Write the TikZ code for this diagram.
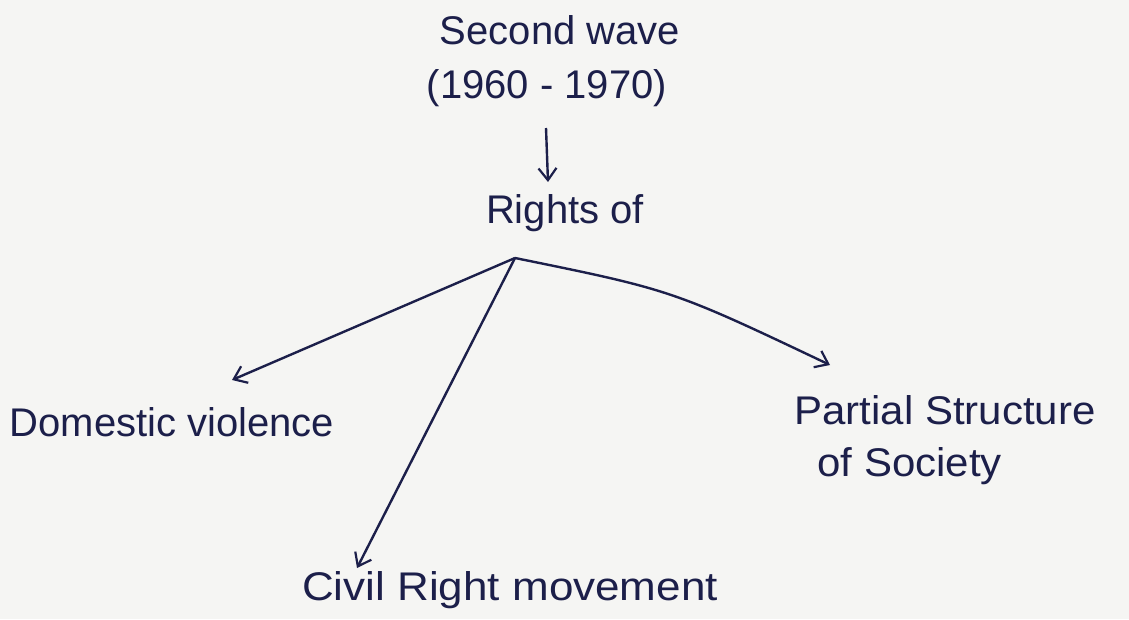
\documentclass[tikz,border=0pt]{standalone}
\usepackage{fontspec}
\setmainfont{Liberation Sans}
\usetikzlibrary{arrows.meta}
\definecolor{ink}{HTML}{1C1F4A}
\definecolor{paper}{HTML}{F5F5F3}
\begin{document}
\begin{tikzpicture}[x=1pt,y=-1pt,
  lbl/.style={text=ink,font=\fontsize{40}{48}\selectfont,inner sep=0pt},
  conn/.style={draw=ink,line width=2.4pt,-{Straight Barb[length=12pt,width=18pt,line width=2.2pt]}}]
\fill[paper] (0,0) rectangle (1129,619);
\useasboundingbox (0,0) rectangle (1129,619);
\node[lbl] (wave) at (560,30) {Second wave};
\node[lbl] (years) at (547,88) {(1960 - 1970)};
\node[lbl] (rights) at (565,213) {Rights of};
\node[lbl] (dom) at (172,422) {Domestic violence};
\node[lbl,xscale=1.1] (civil) at (510,590) {Civil Right movement};
\node[lbl,align=left,xscale=1.05] (partial) at (945,440) {Partial Structure\\[4pt]\hspace{22pt}of Society};
\coordinate (down) at (546,128);
\coordinate (br) at (515,258);
\coordinate (domtip) at (232,380);
\coordinate (civtip) at (357,568);
\coordinate (partip) at (830,365);
\draw[conn] (down) -- (548,182);
\draw[conn] (br) -- (domtip);
\draw[conn] (br) -- (civtip);
\draw[conn] (br) .. controls (672,290) .. (partip);
\end{tikzpicture}
\end{document}
